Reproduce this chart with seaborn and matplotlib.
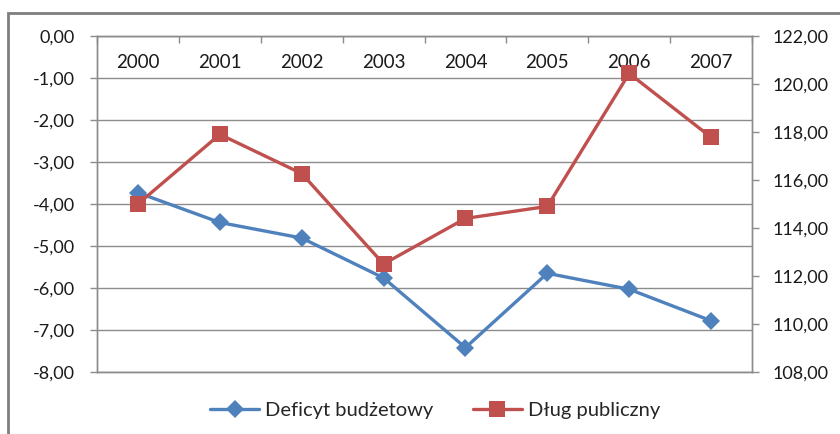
import matplotlib
matplotlib.use('Agg')
import matplotlib.pyplot as plt
import matplotlib.patches as patches
from matplotlib.ticker import FuncFormatter, MultipleLocator, FixedLocator
import seaborn as sns
import pandas as pd

years = ['2000', '2001', '2002', '2003', '2004', '2005', '2006', '2007']
deficyt = [-3.73, -4.44, -4.81, -5.76, -7.42, -5.65, -6.03, -6.78]
dlug = [115.0, 117.9, 116.27, 112.5, 114.4, 114.9, 120.44, 117.78]

blue = '#4F81BD'
red = '#C0504D'
grid_col = '#8C8C8C'
txt_col = '#1a1a1a'
fs = 13


def comma_fmt(v, pos):
    return '{:.2f}'.format(v).replace('.', ',')


sns.set_theme(style='white')
plt.rcParams['font.family'] = ['Lato', 'DejaVu Sans']

df = pd.DataFrame({'rok': years, 'deficyt': deficyt, 'dlug': dlug})

fig = plt.figure(figsize=(8.4, 4.34), dpi=100)
ax = fig.add_axes([97 / 840, 1 - 372 / 434, 655 / 840, 336 / 434])
ax2 = ax.twinx()

sns.lineplot(ax=ax, data=df, x='rok', y='deficyt', color=blue, lw=2.4,
             marker='D', markersize=9, markeredgewidth=0, label='Deficyt budżetowy',
             legend=False)
sns.lineplot(ax=ax2, data=df, x='rok', y='dlug', color=red, lw=2.4,
             marker='s', markersize=11.5, markeredgewidth=0, label='Dług publiczny',
             legend=False)

ax.set_xlim(-0.5, 7.5)
ax.set_ylim(-8, 0)
ax2.set_ylim(108, 122)
ax.yaxis.set_major_locator(MultipleLocator(1))
ax2.yaxis.set_major_locator(MultipleLocator(2))
ax.yaxis.set_major_formatter(FuncFormatter(comma_fmt))
ax2.yaxis.set_major_formatter(FuncFormatter(comma_fmt))
ax.set_xlabel('')
ax.set_ylabel('')
ax2.set_ylabel('')

ax.grid(axis='y', color=grid_col, lw=1)
ax.grid(axis='x', visible=False)
ax2.grid(False)

for a in (ax, ax2):
    for s in a.spines.values():
        s.set_color(grid_col)
        s.set_linewidth(1)

# year labels along the top (axis crosses at 0), ticks between categories
ax.xaxis.set_minor_locator(FixedLocator([i + 0.5 for i in range(-1, 8)]))
ax.tick_params(axis='x', which='major', bottom=False, top=False, labelbottom=False,
               labeltop=True, length=0, pad=-25, labelsize=13.5, labelcolor=txt_col)
ax.tick_params(axis='x', which='minor', bottom=False, top=True, direction='in',
               length=5, width=1, color=grid_col)
ax.tick_params(axis='y', left=True, length=5, width=1, color=grid_col, pad=11,
               labelsize=fs, labelcolor=txt_col)
ax2.tick_params(axis='y', right=True, length=5, width=1, color=grid_col, pad=9.5,
                labelsize=fs, labelcolor=txt_col)

h1, l1 = ax.get_legend_handles_labels()
h2, l2 = ax2.get_legend_handles_labels()
fig.legend(h1 + h2, l1 + l2, loc='center', bbox_to_anchor=(0.518, 0.055), ncol=2,
           frameon=False, fontsize=14.5, handlelength=2.4, handletextpad=0.3,
           columnspacing=2.0)

# chart frame (cut at the right and bottom edge as in the source)
fig.patches.append(patches.Rectangle((8 / 840, -0.5), 2, 0.5 + (1 - 13 / 434),
                                     transform=fig.transFigure, fill=False,
                                     edgecolor='#7f7f7f', lw=2))

fig.savefig('out.png', dpi=100)
